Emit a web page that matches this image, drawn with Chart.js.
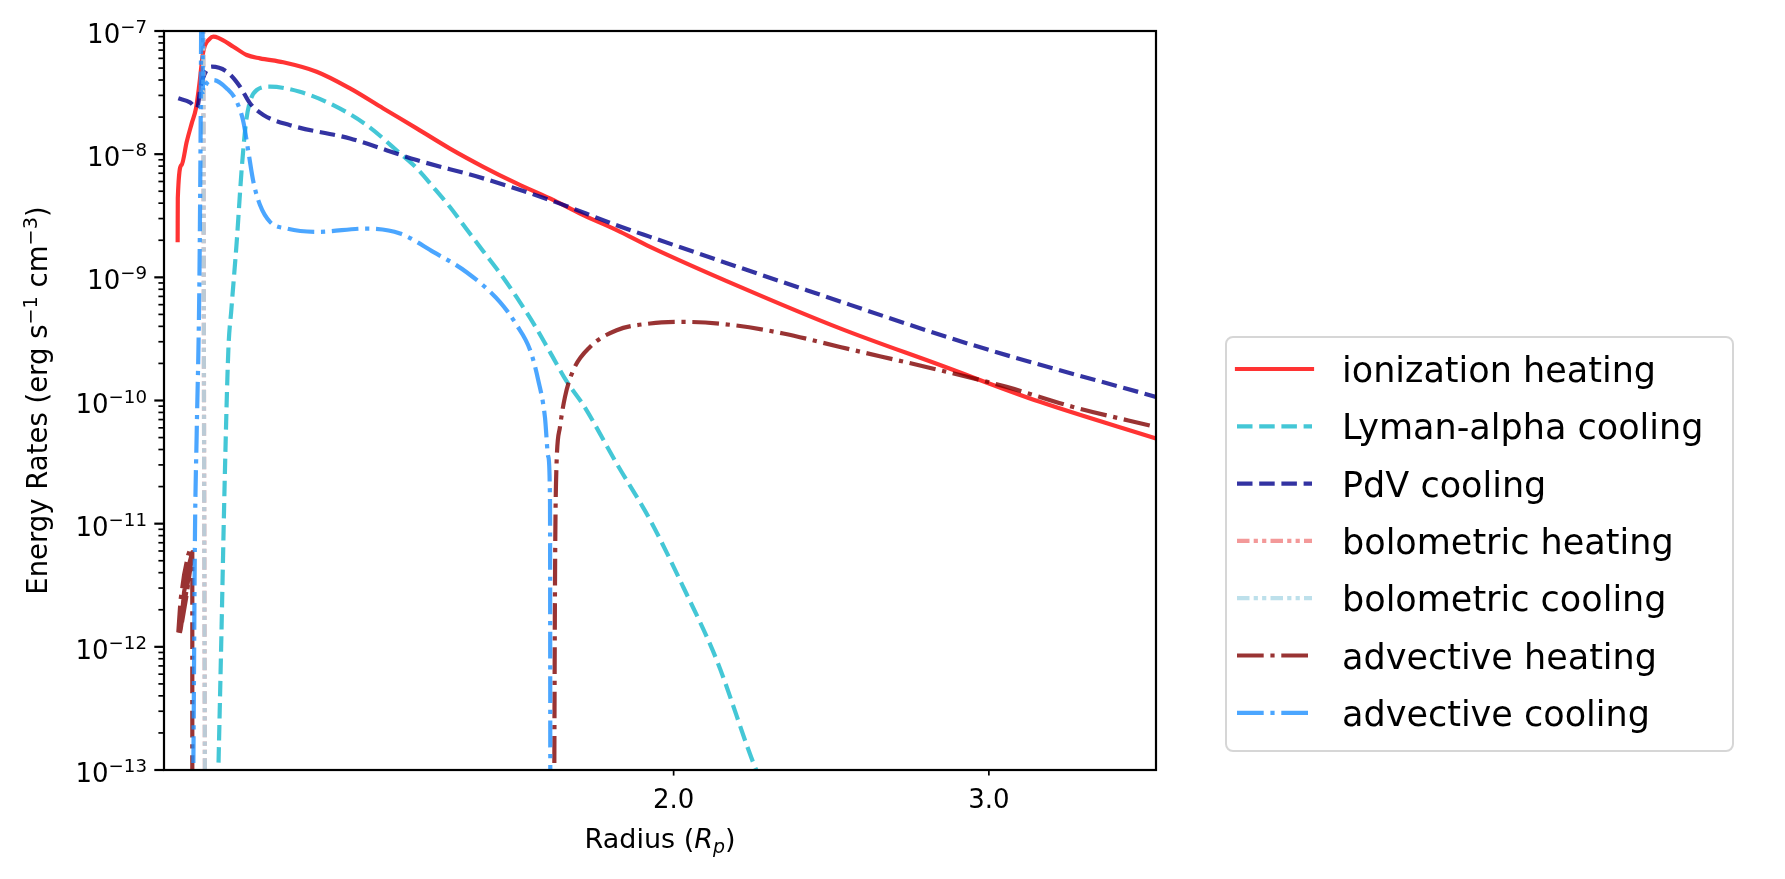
<!DOCTYPE html>
<html>
<head>
<meta charset="utf-8">
<script src="https://cdn.jsdelivr.net/npm/chart.js@4.4.1/dist/chart.umd.min.js"></script>
<style>
  html, body { margin: 0; padding: 0; background: #fff; }
  #wrap { width: 1785px; height: 879px; }
</style>
</head>
<body>
<div id="wrap"><canvas id="chart" width="1785" height="879"></canvas></div>
<script>
// radius in planetary radii, rates in erg s^-1 cm^-3
const ionR = [1.0568, 1.0570, 1.0623, 1.0692, 1.0761, 1.0820, 1.0866, 1.0922, 1.1017, 1.1064, 1.1136, 1.1353, 1.1550, 1.1749, 1.2106, 1.2637, 1.3191, 1.3768, 1.4371, 1.5000, 1.5656, 1.6343, 1.7060, 1.7806, 1.8587, 1.9405, 2.1785, 2.4773, 2.8172, 3.2033, 3.7194];
const ionRate = [2.0e-9, 4.4e-9, 8.2e-9, 1.26e-8, 1.78e-8, 2.35e-8, 3.64e-8, 6.8e-8, 8.7e-8, 9.0e-8, 8.8e-8, 7.46e-8, 6.38e-8, 6.0e-8, 5.57e-8, 4.67e-8, 3.42e-8, 2.35e-8, 1.62e-8, 1.11e-8, 7.9e-9, 5.79e-9, 4.37e-9, 3.2e-9, 2.42e-9, 1.77e-9, 8.37e-10, 3.85e-10, 1.94e-10, 9.75e-11, 4.91e-11];

const lyaR = [1.1124, 1.1175, 1.1232, 1.1280, 1.1324, 1.1402, 1.1476, 1.1540, 1.1598, 1.1700, 1.1901, 1.2367, 1.2910, 1.3477, 1.4067, 1.4371, 1.4681, 1.5000, 1.5325, 1.5656, 1.5998, 1.6343, 1.6697, 1.7060, 1.7430, 1.7806, 1.8587, 1.9405, 2.0249, 2.1142, 2.2181, 2.2353];
const lyaRate = [5e-14, 9.4e-13, 2.89e-11, 2.56e-10, 5.5e-10, 1.94e-9, 7.67e-9, 1.83e-8, 2.67e-8, 3.32e-8, 3.53e-8, 3.21e-8, 2.5e-8, 1.72e-8, 1.015e-8, 7.7e-9, 5.4e-9, 3.72e-9, 2.46e-9, 1.63e-9, 1.08e-9, 6.9e-10, 4.25e-10, 2.47e-10, 1.43e-10, 9.2e-11, 3.08e-11, 1.07e-11, 3.06e-12, 7.77e-13, 1.1e-13, 8.5e-14];

const pdvR = [1.0577, 1.0737, 1.0834, 1.0890, 1.0970, 1.1042, 1.1257, 1.1451, 1.1598, 1.1800, 1.2212, 1.3191, 1.4371, 1.5656, 1.7060, 1.8587, 1.9405, 2.3734, 2.9406, 3.7194];
const pdvRate = [2.84e-8, 2.63e-8, 2.37e-8, 3.64e-8, 4.82e-8, 5.13e-8, 4.67e-8, 3.53e-8, 2.59e-8, 2.08e-8, 1.72e-8, 1.34e-8, 8.95e-9, 6.36e-9, 4.24e-9, 2.65e-9, 2.13e-9, 7.87e-10, 2.81e-10, 1.07e-10];

const bolHeatR = [1.0922, 1.0932, 1.0946];
const bolHeatRate = [1.2e-7, 1e-10, 5e-14];

const bolCoolR = [1.0922, 1.0932, 1.0946];
const bolCoolRate = [1.2e-7, 1e-10, 5e-14];

// advective term near the base wiggles back and forth before it turns negative
const advHeatInR = [1.0577, 1.0607, 1.0655, 1.0710, 1.0744, 1.0758, 1.0683, 1.0614, 1.0587, 1.0627, 1.0683, 1.0730, 1.0758, 1.0723, 1.0655, 1.0607, 1.0655, 1.0717, 1.0769, 1.0769, 1.0769];
const advHeatInRate = [1.31e-12, 2.39e-12, 3.81e-12, 5.53e-12, 6.3e-12, 5.04e-12, 2.48e-12, 1.43e-12, 1.22e-12, 2.17e-12, 3.47e-12, 5.43e-12, 5.86e-12, 3.81e-12, 2.17e-12, 1.36e-12, 2.77e-12, 4.51e-12, 5.86e-12, 3.47e-12, 8.2e-14];

const advHeatR = [1.7152, 1.7170, 1.7192, 1.7280, 1.7392, 1.7578, 1.7960, 1.8587, 1.9405, 2.0249, 2.1598, 2.3030, 2.4773, 2.8172, 3.0690, 3.3434, 3.7194];
const advHeatRate = [5e-14, 3.26e-12, 2.12e-11, 6.1e-11, 1.07e-10, 1.76e-10, 2.72e-10, 3.72e-10, 4.22e-10, 4.35e-10, 4.09e-10, 3.5e-10, 2.72e-10, 1.76e-10, 1.29e-10, 8.87e-11, 6.1e-11];

const advCoolR = [1.0776, 1.0783, 1.0806, 1.0830, 1.0866, 1.0883, 1.0897, 1.0908, 1.0918, 1.0974, 1.1064, 1.1257, 1.1402, 1.1500, 1.1574, 1.1649, 1.1749, 1.1901, 1.2160, 1.2637, 1.3477, 1.4067, 1.4681, 1.5325, 1.5998, 1.6343, 1.6630, 1.6804, 1.6949, 1.7022, 1.7060, 1.7067];
const advCoolRate = [5e-14, 1e-13, 8.3e-12, 5.4e-11, 7.6e-10, 1.08e-8, 2e-7, 2e-7, 3.2e-8, 3.78e-8, 4.0e-8, 3.42e-8, 2.67e-8, 1.83e-8, 1.05e-8, 5.97e-9, 3.86e-9, 2.82e-9, 2.49e-9, 2.34e-9, 2.49e-9, 2.27e-9, 1.61e-9, 1.1e-9, 6.3e-10, 4.1e-10, 2.56e-10, 1.46e-10, 7.36e-11, 3.5e-11, 1.5e-11, 5e-14];

const yTickValues = [1e-13, 1e-12, 1e-11, 1e-10, 1e-9, 1e-8, 1e-7];
const yMinorMults = [2, 3, 4, 5, 6, 7, 8, 9];
const xTickValues = [2.0, 3.0];
const xTickLabels = ['2.0', '3.0'];

const FONT = '"DejaVu Sans", sans-serif';
const LW = 4.2;
const DASHED = [15.5, 6.7];
const DASHDOT = [26.7, 6.7, 4.2, 6.7];
const DASHDOTDOT = [12.5, 4.2, 4.2, 4.2, 4.2, 4.2];

const legendItems = [
    { label: 'ionization heating', color: 'rgba(255,0,0,0.8)', dash: [] },
    { label: 'Lyman-alpha cooling', color: 'rgba(5,180,200,0.75)', dash: DASHED },
    { label: 'PdV cooling', color: 'rgba(0,0,139,0.8)', dash: DASHED },
    { label: 'bolometric heating', color: 'rgba(240,128,128,0.8)', dash: DASHDOTDOT },
    { label: 'bolometric cooling', color: 'rgba(173,216,230,0.8)', dash: DASHDOTDOT },
    { label: 'advective heating', color: 'rgba(128,0,0,0.8)', dash: DASHDOT },
    { label: 'advective cooling', color: 'rgba(30,144,255,0.8)', dash: DASHDOT }
];

function series(item, xs, ys, order, smooth) {
    return {
        label: item.label,
        data: xs.map((x, i) => ({ x: x, y: ys[i] })),
        showLine: true,
        borderColor: item.color,
        borderWidth: LW,
        borderDash: item.dash,
        borderCapStyle: item.dash.length ? 'butt' : 'square',
        borderJoinStyle: 'round',
        pointRadius: 0,
        pointHoverRadius: 0,
        cubicInterpolationMode: smooth ? 'monotone' : 'default',
        tension: 0,
        clip: 0,
        order: order
    };
}

// draws text pieces in a row, centered on cx (sizes, italics, baseline shifts)
function drawRuns(ctx, runs, cx, baseY) {
    let total = 0;
    runs.forEach(r => {
        ctx.font = (r.italic ? 'italic ' : '') + r.size + 'px ' + FONT;
        r.w = ctx.measureText(r.t).width;
        total += r.w;
    });
    let x = cx - total / 2;
    ctx.textAlign = 'left';
    ctx.textBaseline = 'alphabetic';
    runs.forEach(r => {
        ctx.font = (r.italic ? 'italic ' : '') + r.size + 'px ' + FONT;
        ctx.fillText(r.t, x, baseY + (r.dy || 0));
        x += r.w;
    });
}

function drawPow10(ctx, value, rightX, midY) {
    const exp = Math.round(Math.log10(value));
    const sup = (exp < 0 ? '\u2212' : '') + Math.abs(exp);
    ctx.font = '26px ' + FONT;
    const wb = ctx.measureText('10').width;
    ctx.font = '18.2px ' + FONT;
    const ws = ctx.measureText(sup).width;
    const x0 = rightX - wb - ws;
    ctx.textAlign = 'left';
    ctx.textBaseline = 'alphabetic';
    ctx.font = '26px ' + FONT;
    ctx.fillText('10', x0, midY + 12);
    ctx.font = '18.2px ' + FONT;
    ctx.fillText(sup, x0 + wb, midY + 2);
}

const axesDecor = {
    id: 'axesDecor',
    afterDraw(chart) {
        const ctx = chart.ctx;
        const a = chart.chartArea;
        const xs = chart.scales.x, ys = chart.scales.y;
        ctx.save();
        ctx.fillStyle = '#000';
        ctx.strokeStyle = '#000';
        ctx.setLineDash([]);

        // y ticks, major and minor, pointing out
        ctx.lineWidth = 2.2;
        yTickValues.forEach(v => {
            const py = ys.getPixelForValue(v);
            ctx.beginPath(); ctx.moveTo(a.left - 9.7, py); ctx.lineTo(a.left, py); ctx.stroke();
            drawPow10(ctx, v, a.left - 17, py);
        });
        ctx.lineWidth = 1.7;
        for (let i = 0; i < yTickValues.length - 1; i++) {
            yMinorMults.forEach(m => {
                const py = ys.getPixelForValue(yTickValues[i] * m);
                ctx.beginPath(); ctx.moveTo(a.left - 5.6, py); ctx.lineTo(a.left, py); ctx.stroke();
            });
        }

        // x ticks (minor ones of the log axis carry the labels)
        ctx.font = '26px ' + FONT;
        xTickValues.forEach((v, i) => {
            const px = xs.getPixelForValue(v);
            ctx.lineWidth = 1.7;
            ctx.beginPath(); ctx.moveTo(px, a.bottom); ctx.lineTo(px, a.bottom + 5.6); ctx.stroke();
            ctx.textAlign = 'center';
            ctx.textBaseline = 'alphabetic';
            ctx.fillText(xTickLabels[i], px, 808);
        });

        // frame
        ctx.lineWidth = 2.2;
        ctx.strokeRect(a.left, a.top, a.right - a.left, a.bottom - a.top);

        // axis titles
        drawRuns(ctx, [
            { t: 'Radius (', size: 27 },
            { t: 'R', size: 27, italic: true },
            { t: 'p', size: 18.9, italic: true, dy: 5 },
            { t: ')', size: 27 }
        ], (a.left + a.right) / 2, 848);

        ctx.save();
        ctx.translate(47, (a.top + a.bottom) / 2);
        ctx.rotate(-Math.PI / 2);
        drawRuns(ctx, [
            { t: 'Energy Rates (erg s', size: 27.5 },
            { t: '\u22121', size: 19.3, dy: -10.5 },
            { t: ' cm', size: 27.5 },
            { t: '\u22123', size: 19.3, dy: -10.5 },
            { t: ')', size: 27.5 }
        ], 0, 0);
        ctx.restore();

        // legend
        const bx = 1226, by = 337, bw = 507, bh = 414;
        ctx.beginPath();
        ctx.roundRect(bx, by, bw, bh, 7);
        ctx.fillStyle = 'rgba(255,255,255,0.8)';
        ctx.fill();
        ctx.lineWidth = 2;
        ctx.strokeStyle = 'rgba(204,204,204,0.8)';
        ctx.stroke();
        legendItems.forEach((it, i) => {
            const ry = 369 + i * 57.3;
            ctx.strokeStyle = it.color;
            ctx.lineWidth = LW;
            ctx.setLineDash(it.dash);
            ctx.lineCap = it.dash.length ? 'butt' : 'square';
            ctx.beginPath(); ctx.moveTo(1237, ry); ctx.lineTo(1312, ry); ctx.stroke();
            ctx.setLineDash([]);
            ctx.fillStyle = '#000';
            ctx.font = '35px ' + FONT;
            ctx.textAlign = 'left';
            ctx.textBaseline = 'alphabetic';
            ctx.fillText(it.label, 1342, ry + 13);
        });
        ctx.restore();
    }
};

new Chart(document.getElementById('chart'), {
    type: 'scatter',
    data: {
        datasets: [
            series(legendItems[0], ionR, ionRate, 8, true),
            series(legendItems[1], lyaR, lyaRate, 7, true),
            series(legendItems[2], pdvR, pdvRate, 6, true),
            series(legendItems[3], bolHeatR, bolHeatRate, 5, false),
            series(legendItems[4], bolCoolR, bolCoolRate, 4, false),
            series(legendItems[5], advHeatInR, advHeatInRate, 3, false),
            series(legendItems[5], advHeatR, advHeatRate, 3, true),
            series(legendItems[6], advCoolR, advCoolRate, 1, true)
        ]
    },
    options: {
        responsive: false,
        animation: false,
        events: [],
        layout: { padding: { left: 0, top: 31, right: 629, bottom: 0 } },
        plugins: { legend: { display: false }, tooltip: { enabled: false } },
        scales: {
            x: {
                type: 'logarithmic',
                min: 1.0384,
                max: 3.7194,
                grid: { display: false },
                border: { display: false },
                ticks: { display: false },
                afterBuildTicks: s => { s.ticks = xTickValues.map(v => ({ value: v })); },
                afterFit: s => { s.height = 109; }
            },
            y: {
                type: 'logarithmic',
                min: 1e-13,
                max: 1e-7,
                grid: { display: false },
                border: { display: false },
                ticks: { display: false },
                afterBuildTicks: s => { s.ticks = yTickValues.map(v => ({ value: v })); },
                afterFit: s => { s.width = 164; }
            }
        }
    },
    plugins: [axesDecor]
});
</script>
</body>
</html>
